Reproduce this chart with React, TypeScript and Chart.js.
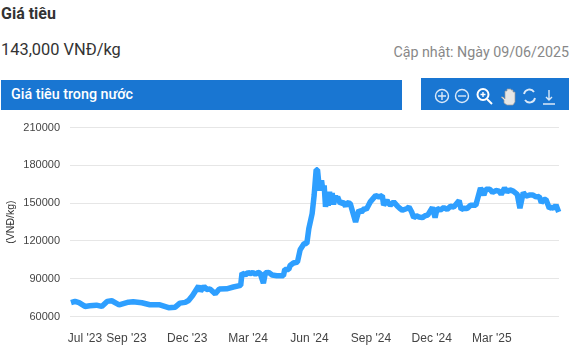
import React, { useEffect, useRef } from "react";
import { Chart, registerables } from "chart.js";

Chart.register(...registerables);

// Days since 10 Jun 2023
const days = [0, 6, 12, 21, 28, 38, 46, 54, 61, 72, 86, 93, 106, 118, 133, 146, 156, 163, 171, 176, 182, 191, 194, 199, 203, 208, 216, 222, 233, 243, 254, 256, 261, 265, 268, 272, 276, 280, 283, 288, 291, 296, 301, 308, 318, 320, 326, 328, 333, 339, 343, 349, 353, 356, 361, 364, 367, 369, 372, 375, 377, 379, 381, 383, 385, 387, 389, 391, 393, 396, 398, 399, 403, 407, 411, 413, 418, 426, 431, 435, 439, 442, 445, 448, 456, 461, 466, 468, 473, 475, 478, 483, 488, 492, 496, 503, 506, 510, 513, 517, 521, 526, 530, 534, 541, 545, 548, 553, 558, 563, 568, 573, 577, 581, 584, 588, 593, 598, 606, 613, 618, 621, 627, 631, 636, 641, 644, 649, 653, 657, 662, 668, 672, 677, 681, 686, 691, 696, 701, 704, 708, 711, 716, 720, 723, 726, 730];
const prices = [71000, 72000, 71000, 68000, 68500, 69000, 68000, 72000, 72500, 69300, 71400, 71700, 70900, 69300, 69300, 67000, 67400, 70600, 71200, 72700, 76700, 84200, 80200, 83900, 81500, 81800, 78000, 81800, 82000, 83400, 84700, 94500, 93000, 95000, 94000, 95000, 93500, 95000, 94500, 86500, 94800, 95000, 93000, 92400, 92400, 97400, 97400, 100500, 102500, 103300, 113000, 117900, 117900, 129800, 141800, 156400, 176500, 176500, 160000, 168000, 160300, 164000, 147000, 159000, 148000, 159000, 149000, 158000, 149000, 156000, 151000, 155000, 149700, 151000, 147500, 150300, 149700, 135000, 144400, 143000, 145800, 145000, 148000, 151000, 156000, 155000, 156000, 148400, 152400, 150000, 148400, 151000, 148000, 146000, 144400, 145800, 147000, 143000, 138500, 140000, 139000, 138500, 140000, 140500, 146500, 138500, 145800, 144500, 146500, 145000, 147500, 147000, 149500, 152000, 145000, 146000, 145800, 148400, 148400, 162000, 156400, 161000, 161000, 158500, 160000, 159500, 157000, 162000, 159000, 160500, 159500, 157000, 146000, 158500, 155500, 156400, 156500, 155000, 155300, 150300, 153000, 153000, 146000, 147000, 145500, 148500, 143000];
const tickDays = [21, 83, 174, 265, 357, 449, 540, 630];
const tickLabels = ["Jul '23", "Sep '23", "Dec '23", "Mar '24", "Jun '24", "Sep '24", "Dec '24", "Mar '25"];
const yTicks = [60000, 90000, 120000, 150000, 180000, 210000];

const abs = (left: number, top: number, extra: React.CSSProperties = {}): React.CSSProperties => ({
  position: "absolute", left, top, whiteSpace: "nowrap", ...extra,
});

function Icons() {
  const s = { fill: "none", stroke: "#dbe9f8", strokeWidth: 1.4 };
  return (
    <svg width="148" height="32" style={abs(421, 78)}>
      <g {...s}>
        <circle cx="21" cy="18" r="6.5" /><path d="M17 18h8M21 14v8" />
        <circle cx="41" cy="18" r="6.5" /><path d="M37 18h8" />
        <circle cx="62" cy="16.5" r="5.5" strokeWidth="2" stroke="#fff" /><path d="M59.5 16.5h5M62 14v5" stroke="#fff" /><path d="M66 21l5 5" strokeWidth="2" stroke="#fff" />
        <path d="M103 16a5.5 5.5 0 0 1 10-2M114 20a5.5 5.5 0 0 1-10 2" strokeWidth="1.8" />
        <path d="M128 12v10M125 19l3 3 3-3M122 26h12" />
      </g>
      <path d="M80 19l3 3v3l3 2h6l2-3v-10h-2v-2h-2v-1h-2v-0h-2v2h-2v8l-2-2z" fill="#e6e6e6" stroke="#9a9a9a" strokeWidth="0.7" />
    </svg>
  );
}

export default function App() {
  const ref = useRef<HTMLCanvasElement>(null);
  useEffect(() => {
    document.body.style.margin = "0";
    const chart = new Chart(ref.current!, {
      type: "line",
      data: {
        datasets: [{
          data: days.map((d, i) => ({ x: d, y: prices[i] })),
          borderColor: "#2e9fff",
          borderWidth: 5.5,
          pointRadius: 0,
          tension: 0,
          borderJoinStyle: "bevel",
          clip: false,
        }],
      },
      options: {
        animation: false,
        responsive: false,
        layout: { padding: { top: 4.5, right: 20, left: 0, bottom: 0 } },
        plugins: { legend: { display: false }, tooltip: { enabled: false } },
        scales: {
          x: {
            type: "linear",
            min: -1.5,
            max: 730.5,
            grid: { display: false },
            border: { display: false },
            afterBuildTicks: (s: any) => { s.ticks = tickDays.map((value) => ({ value })); },
            afterFit: (s: any) => { s.height = 40.5; },
            ticks: {
              autoSkip: false,
              maxRotation: 0,
              padding: 7,
              color: "#444",
              font: { family: "Liberation Sans", size: 12 },
              callback: (v: any) => tickLabels[tickDays.indexOf(Number(v))],
            },
          },
          y: {
            min: 60000,
            max: 210000,
            afterBuildTicks: (s: any) => { s.ticks = yTicks.map((value) => ({ value })); },
            afterFit: (s: any) => { s.width = 70; },
            grid: { color: "#e6e6e6", lineWidth: 1, drawTicks: false },
            border: { display: false },
            title: { display: true, text: "(VNĐ/kg)", color: "#333", font: { family: "Liberation Sans", size: 10.5 }, padding: { top: 5, bottom: 0 } },
            ticks: { padding: 10, color: "#444", font: { family: "Liberation Sans", size: 11 }, callback: (v: any) => String(v) },
          },
        },
      },
    });
    return () => chart.destroy();
  }, []);
  return (
    <div style={{ position: "relative", width: 579, height: 357, fontFamily: "Roboto", overflow: "hidden", background: "#fff" }}>
      <div style={abs(1, 4, { fontSize: 16, fontWeight: 700, color: "#333", lineHeight: "20px" })}>Giá tiêu</div>
      <div style={abs(1, 40, { fontSize: 16.4, color: "#333", lineHeight: "20px" })}>143,000 VNĐ/kg</div>
      <div style={{ position: "absolute", right: 10, top: 43, whiteSpace: "nowrap", fontSize: 14.25, color: "#888", lineHeight: "18px" }}>Cập nhật: Ngày 09/06/2025</div>
      <div style={abs(1, 80, { width: 401, height: 30, background: "#1976d2" })} />
      <div style={abs(11, 85, { fontSize: 14.3, fontWeight: 500, color: "#fff", lineHeight: "18px" })}>Giá tiêu trong nước</div>
      <div style={abs(421, 78, { width: 148, height: 32, background: "#1976d2" })} />
      <Icons />
      <canvas ref={ref} width={579} height={246} style={{ position: "absolute", left: 0, top: 111 }} />
    </div>
  );
}
